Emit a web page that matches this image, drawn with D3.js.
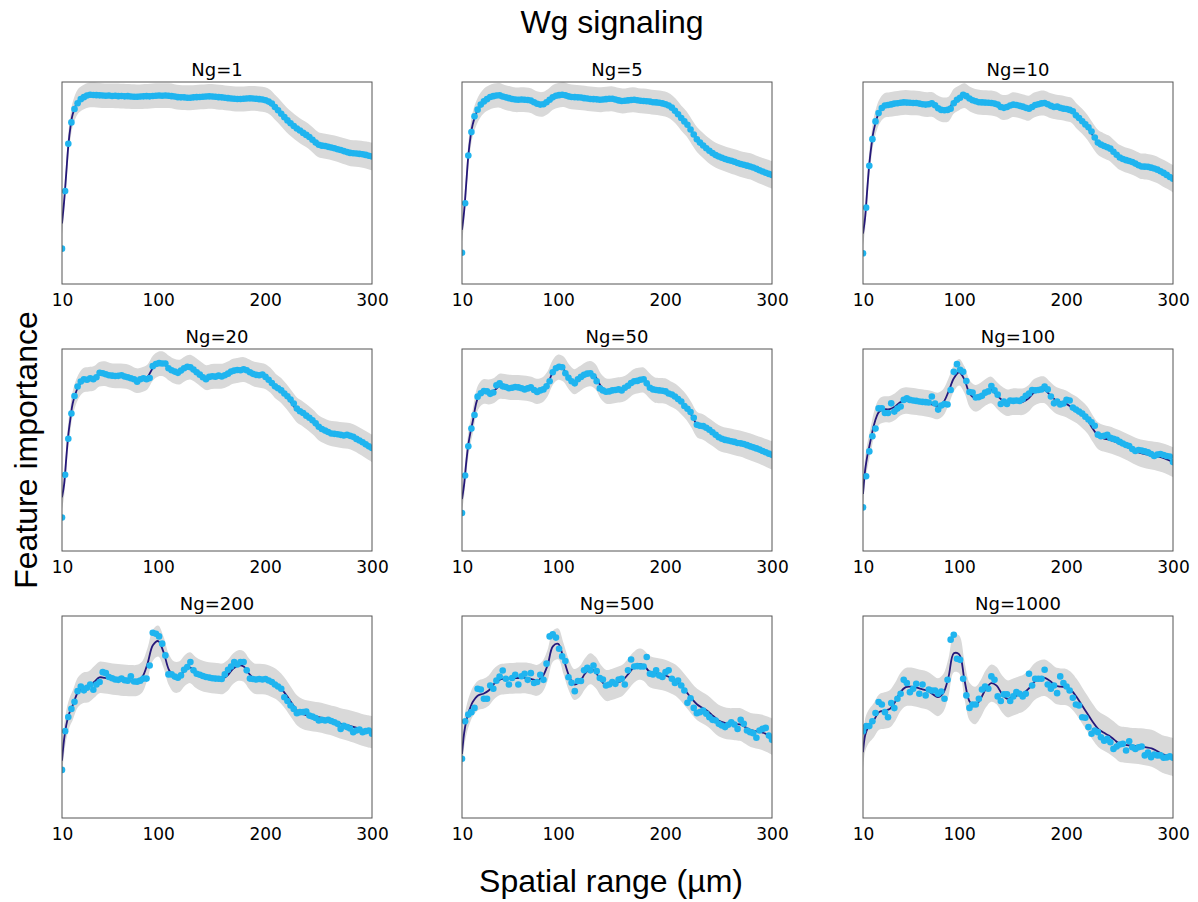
<!DOCTYPE html>
<html><head><meta charset="utf-8">
<script src="https://cdn.jsdelivr.net/npm/d3@7"></script>
<style>
html,body{margin:0;padding:0;background:#fff;}
svg{display:block;}
</style></head><body>
<svg id="chart" width="1198" height="902"></svg>
<script>
// ---------------- DATA ----------------
const panelTitles = ["Ng=1","Ng=5","Ng=10","Ng=20","Ng=50","Ng=100","Ng=200","Ng=500","Ng=1000"];
const tickVals = [10,100,200,300];

// sampled spatial ranges (µm) of the scatter points
const xGrid = [10.0,12.9,15.9,18.8,21.7,24.6,27.6,30.5,33.4,36.4,
39.3,42.2,45.2,48.1,51.0,53.9,56.9,59.8,62.7,65.7,
68.6,71.5,74.4,77.4,80.3,83.2,86.2,89.1,92.0,94.9,
97.9,100.8,103.7,106.7,109.6,112.5,115.5,118.4,121.3,124.2,
127.2,130.1,133.0,136.0,138.9,141.8,144.7,147.7,150.6,153.5,
156.5,159.4,162.3,165.3,168.2,171.1,174.0,177.0,179.9,182.8,
185.8,188.7,191.6,194.5,197.5,200.4,203.3,206.3,209.2,212.1,
215.1,218.0,220.9,223.8,226.8,229.7,232.6,235.6,238.5,241.4,
244.3,247.3,250.2,253.1,256.1,259.0,261.9,264.8,267.8,270.7,
273.6,276.6,279.5,282.4,285.4,288.3,291.2,294.1,297.1,300.0];

// x positions of the fitted curve samples
const lineX = [10,12,14,16,18,20,25,30,35,40,45,50,55,60,65,70,75,80,85,90,95,100,105,110,115,120,125,130,135,140,145,150,155,160,165,170,175,180,185,190,195,200,205,210,215,220,225,230,235,240,245,250,255,260,265,270,275,280,285,290,295,300];
// x positions of the uncertainty half-width samples
const bandX = [10,40,260,300];

// scatter values (relative feature importance)
const dotsNg1 = [0.175,0.46,0.694,0.80,0.866,0.895,0.915,0.925,0.933,0.937,
0.936,0.935,0.934,0.933,0.932,0.933,0.931,0.932,0.930,0.931,
0.929,0.930,0.928,0.927,0.927,0.928,0.929,0.930,0.929,0.931,
0.932,0.933,0.932,0.933,0.932,0.930,0.928,0.925,0.924,0.924,
0.922,0.922,0.924,0.925,0.926,0.927,0.928,0.929,0.928,0.927,
0.925,0.924,0.922,0.920,0.918,0.917,0.916,0.916,0.917,0.918,
0.919,0.918,0.917,0.915,0.913,0.910,0.903,0.893,0.876,0.860,
0.843,0.826,0.810,0.796,0.782,0.770,0.760,0.748,0.738,0.728,
0.714,0.700,0.689,0.685,0.683,0.679,0.676,0.672,0.667,0.663,
0.658,0.653,0.649,0.647,0.646,0.644,0.642,0.639,0.635,0.631];
const dotsNg5 = [0.155,0.40,0.636,0.752,0.83,0.863,0.888,0.904,0.915,0.926,
0.930,0.933,0.934,0.928,0.924,0.920,0.916,0.913,0.912,0.913,
0.912,0.911,0.908,0.900,0.892,0.888,0.890,0.900,0.912,0.924,
0.932,0.935,0.937,0.934,0.929,0.926,0.925,0.924,0.923,0.920,
0.918,0.916,0.915,0.914,0.912,0.913,0.915,0.917,0.917,0.913,
0.909,0.906,0.907,0.909,0.911,0.912,0.910,0.907,0.906,0.905,
0.903,0.900,0.899,0.897,0.894,0.890,0.884,0.873,0.858,0.840,
0.822,0.805,0.788,0.765,0.740,0.716,0.700,0.686,0.672,0.660,
0.648,0.638,0.631,0.625,0.619,0.614,0.610,0.605,0.599,0.594,
0.590,0.586,0.582,0.577,0.570,0.563,0.557,0.551,0.545,0.540];
const dotsNg10 = [0.152,0.378,0.585,0.717,0.805,0.846,0.871,0.884,0.886,0.889,
0.893,0.895,0.897,0.899,0.898,0.897,0.896,0.896,0.893,0.890,
0.888,0.890,0.895,0.885,0.870,0.862,0.860,0.862,0.868,0.895,
0.912,0.922,0.937,0.930,0.918,0.910,0.905,0.900,0.899,0.898,
0.897,0.896,0.893,0.888,0.876,0.872,0.876,0.884,0.888,0.886,
0.882,0.878,0.872,0.868,0.876,0.886,0.890,0.894,0.896,0.890,
0.882,0.876,0.878,0.872,0.868,0.866,0.862,0.855,0.835,0.822,
0.806,0.790,0.776,0.755,0.725,0.700,0.690,0.683,0.677,0.670,
0.655,0.640,0.626,0.619,0.613,0.609,0.604,0.596,0.588,0.582,
0.581,0.580,0.576,0.572,0.566,0.558,0.550,0.540,0.530,0.521];
const dotsNg20 = [0.166,0.377,0.556,0.681,0.767,0.814,0.839,0.850,0.848,0.855,
0.850,0.860,0.882,0.880,0.875,0.870,0.868,0.866,0.867,0.870,
0.864,0.860,0.855,0.850,0.838,0.850,0.855,0.850,0.856,0.915,
0.926,0.930,0.928,0.928,0.905,0.895,0.888,0.882,0.893,0.905,
0.912,0.910,0.898,0.885,0.873,0.860,0.850,0.862,0.865,0.863,
0.868,0.864,0.870,0.878,0.888,0.893,0.896,0.895,0.900,0.895,
0.885,0.877,0.872,0.870,0.874,0.862,0.848,0.832,0.815,0.806,
0.795,0.780,0.766,0.750,0.730,0.705,0.692,0.683,0.670,0.660,
0.647,0.632,0.615,0.604,0.596,0.589,0.582,0.580,0.578,0.575,
0.572,0.575,0.570,0.565,0.555,0.547,0.538,0.528,0.518,0.510];
const dotsNg50 = [0.188,0.374,0.518,0.606,0.673,0.764,0.781,0.792,0.790,0.778,
0.785,0.820,0.830,0.815,0.812,0.806,0.808,0.812,0.810,0.806,
0.800,0.805,0.810,0.797,0.787,0.795,0.800,0.815,0.840,0.885,
0.905,0.912,0.910,0.880,0.858,0.840,0.830,0.850,0.862,0.872,
0.878,0.880,0.865,0.840,0.805,0.795,0.788,0.790,0.795,0.797,
0.800,0.795,0.808,0.818,0.832,0.840,0.842,0.848,0.850,0.830,
0.808,0.800,0.797,0.795,0.793,0.790,0.780,0.775,0.765,0.752,
0.740,0.718,0.704,0.688,0.660,0.625,0.620,0.618,0.610,0.600,
0.588,0.575,0.563,0.556,0.550,0.547,0.543,0.540,0.535,0.533,
0.530,0.524,0.518,0.513,0.508,0.502,0.495,0.489,0.482,0.476];
const dotsNg100 = [0.216,0.37,0.493,0.568,0.606,0.706,0.706,0.683,0.683,0.731,
0.690,0.705,0.715,0.748,0.756,0.748,0.745,0.743,0.740,0.738,
0.737,0.735,0.765,0.730,0.700,0.720,0.728,0.725,0.797,0.887,
0.925,0.897,0.887,0.841,0.787,0.785,0.760,0.762,0.768,0.784,
0.790,0.817,0.795,0.774,0.728,0.740,0.728,0.745,0.743,0.745,
0.743,0.752,0.768,0.780,0.797,0.795,0.797,0.800,0.814,0.800,
0.765,0.731,0.740,0.725,0.730,0.748,0.745,0.710,0.700,0.690,
0.680,0.665,0.651,0.637,0.620,0.576,0.568,0.570,0.575,0.560,
0.555,0.550,0.540,0.532,0.525,0.520,0.505,0.495,0.500,0.497,
0.493,0.488,0.480,0.470,0.477,0.480,0.475,0.470,0.468,0.440];
const dotsNg200 = [0.238,0.43,0.50,0.54,0.575,0.628,0.651,0.632,0.645,0.661,
0.635,0.661,0.673,0.722,0.717,0.698,0.692,0.686,0.684,0.690,
0.682,0.680,0.702,0.676,0.675,0.680,0.690,0.690,0.755,0.917,
0.912,0.899,0.863,0.805,0.711,0.711,0.700,0.694,0.706,0.734,
0.747,0.772,0.731,0.714,0.709,0.703,0.698,0.695,0.692,0.690,
0.689,0.688,0.711,0.734,0.750,0.772,0.760,0.772,0.772,0.731,
0.690,0.688,0.686,0.688,0.686,0.688,0.681,0.673,0.661,0.651,
0.640,0.598,0.579,0.557,0.540,0.519,0.524,0.524,0.527,0.507,
0.502,0.495,0.483,0.486,0.483,0.486,0.480,0.474,0.466,0.441,
0.456,0.450,0.443,0.425,0.433,0.438,0.425,0.430,0.433,0.417];
const dotsNg500 = [0.293,0.479,0.512,0.524,0.545,0.640,0.636,0.590,0.590,0.656,
0.640,0.680,0.700,0.730,0.689,0.661,0.693,0.709,0.661,0.702,
0.714,0.684,0.717,0.668,0.673,0.709,0.684,0.764,0.899,0.909,
0.893,0.838,0.800,0.777,0.697,0.669,0.628,0.678,0.678,0.731,
0.744,0.731,0.755,0.727,0.693,0.686,0.656,0.661,0.673,0.664,
0.686,0.689,0.661,0.731,0.785,0.750,0.752,0.750,0.750,0.797,
0.714,0.711,0.731,0.706,0.698,0.722,0.731,0.689,0.668,0.681,
0.656,0.631,0.570,0.593,0.545,0.519,0.524,0.532,0.516,0.499,
0.486,0.483,0.466,0.458,0.450,0.462,0.474,0.463,0.441,0.486,
0.466,0.433,0.425,0.420,0.397,0.433,0.441,0.446,0.408,0.387];
const dotsNg1000 = [0.430,0.455,0.455,0.479,0.520,0.574,0.562,0.524,0.499,0.569,
0.544,0.590,0.615,0.684,0.668,0.623,0.640,0.664,0.615,0.661,
0.607,0.636,0.631,0.631,0.615,0.626,0.590,0.684,0.883,0.907,
0.788,0.783,0.689,0.607,0.545,0.562,0.562,0.590,0.636,0.651,
0.640,0.701,0.684,0.602,0.579,0.612,0.612,0.579,0.602,0.623,
0.615,0.602,0.615,0.714,0.656,0.689,0.689,0.689,0.734,0.661,
0.640,0.656,0.618,0.701,0.668,0.651,0.631,0.595,0.562,0.557,
0.499,0.496,0.450,0.417,0.433,0.425,0.400,0.383,0.392,0.375,
0.342,0.354,0.364,0.367,0.334,0.380,0.350,0.342,0.350,0.354,
0.310,0.324,0.301,0.314,0.310,0.310,0.298,0.300,0.305,0.298];

// fitted mean curves (at lineX)
const fitNg1 = [0.30,0.41,0.55,0.69,0.78,0.84,0.905,0.925,0.935,0.936,0.934,0.932,0.932,0.931,0.930,0.929,0.928,0.927,0.928,0.929,0.931,0.932,0.933,0.932,0.928,0.924,0.923,0.922,0.924,0.926,0.928,0.929,0.926,0.924,0.920,0.917,0.916,0.916,0.918,0.919,0.916,0.912,0.899,0.871,0.843,0.813,0.790,0.769,0.750,0.734,0.711,0.689,0.683,0.678,0.672,0.664,0.656,0.648,0.646,0.643,0.638,0.631];
const fitNg5 = [0.268,0.36,0.50,0.64,0.73,0.79,0.865,0.904,0.922,0.932,0.934,0.924,0.918,0.912,0.913,0.912,0.907,0.893,0.889,0.902,0.924,0.934,0.937,0.929,0.925,0.923,0.920,0.916,0.914,0.912,0.915,0.917,0.911,0.906,0.909,0.912,0.908,0.906,0.903,0.899,0.896,0.891,0.879,0.855,0.822,0.793,0.753,0.714,0.688,0.664,0.645,0.631,0.621,0.612,0.604,0.595,0.588,0.582,0.571,0.560,0.550,0.540];
const fitNg10 = [0.25,0.33,0.47,0.60,0.69,0.76,0.85,0.884,0.889,0.893,0.897,0.899,0.897,0.896,0.892,0.888,0.888,0.872,0.862,0.866,0.905,0.922,0.932,0.915,0.904,0.899,0.898,0.896,0.890,0.875,0.876,0.888,0.884,0.876,0.870,0.886,0.894,0.895,0.884,0.877,0.873,0.867,0.860,0.830,0.806,0.775,0.735,0.700,0.685,0.673,0.650,0.627,0.615,0.607,0.596,0.583,0.581,0.575,0.566,0.551,0.537,0.521];
const fitNg20 = [0.266,0.33,0.46,0.58,0.66,0.73,0.81,0.845,0.850,0.855,0.875,0.878,0.870,0.867,0.867,0.864,0.855,0.843,0.848,0.862,0.905,0.925,0.925,0.905,0.890,0.886,0.902,0.910,0.895,0.875,0.858,0.864,0.865,0.866,0.876,0.890,0.895,0.898,0.888,0.875,0.870,0.864,0.845,0.815,0.795,0.765,0.730,0.697,0.680,0.660,0.637,0.610,0.595,0.584,0.579,0.575,0.572,0.568,0.556,0.540,0.524,0.508];
const fitNg50 = [0.257,0.33,0.44,0.53,0.59,0.64,0.76,0.789,0.787,0.795,0.815,0.814,0.810,0.809,0.808,0.806,0.800,0.790,0.797,0.827,0.885,0.910,0.900,0.862,0.838,0.852,0.870,0.878,0.862,0.815,0.792,0.792,0.797,0.800,0.814,0.836,0.844,0.846,0.820,0.798,0.794,0.792,0.778,0.764,0.740,0.711,0.670,0.625,0.615,0.598,0.580,0.561,0.550,0.545,0.538,0.532,0.524,0.515,0.505,0.495,0.484,0.473];
const fitNg100 = [0.282,0.40,0.47,0.52,0.57,0.62,0.689,0.701,0.702,0.715,0.737,0.745,0.742,0.739,0.735,0.731,0.725,0.718,0.735,0.789,0.855,0.885,0.847,0.777,0.756,0.767,0.787,0.797,0.772,0.748,0.734,0.739,0.739,0.740,0.756,0.785,0.797,0.797,0.772,0.748,0.737,0.728,0.713,0.698,0.675,0.648,0.605,0.570,0.558,0.551,0.542,0.532,0.520,0.507,0.494,0.484,0.478,0.473,0.468,0.462,0.452,0.440];
const fitNg200 = [0.284,0.39,0.46,0.505,0.535,0.557,0.623,0.645,0.650,0.673,0.696,0.694,0.690,0.686,0.683,0.681,0.680,0.681,0.698,0.764,0.855,0.876,0.821,0.734,0.698,0.700,0.731,0.744,0.721,0.706,0.698,0.694,0.691,0.689,0.706,0.739,0.755,0.750,0.714,0.690,0.688,0.686,0.677,0.664,0.640,0.607,0.568,0.532,0.515,0.507,0.503,0.499,0.493,0.486,0.478,0.469,0.462,0.455,0.447,0.438,0.431,0.425];
const fitNg500 = [0.317,0.42,0.48,0.52,0.55,0.574,0.607,0.615,0.631,0.664,0.684,0.689,0.691,0.693,0.693,0.693,0.688,0.681,0.698,0.755,0.850,0.862,0.788,0.706,0.661,0.674,0.714,0.739,0.721,0.681,0.656,0.661,0.670,0.681,0.709,0.742,0.761,0.755,0.727,0.717,0.712,0.706,0.695,0.681,0.655,0.623,0.590,0.562,0.545,0.529,0.505,0.483,0.472,0.466,0.465,0.463,0.450,0.436,0.430,0.425,0.415,0.403];
const fitNg1000 = [0.326,0.41,0.44,0.458,0.47,0.483,0.524,0.532,0.540,0.574,0.623,0.648,0.650,0.645,0.638,0.631,0.614,0.598,0.618,0.698,0.815,0.810,0.681,0.574,0.557,0.590,0.640,0.668,0.655,0.615,0.590,0.598,0.608,0.618,0.640,0.673,0.689,0.694,0.678,0.656,0.650,0.648,0.631,0.598,0.557,0.516,0.475,0.441,0.423,0.408,0.388,0.367,0.362,0.359,0.357,0.354,0.350,0.345,0.332,0.317,0.309,0.301];

// uncertainty half-widths (at bandX)
const bandNg1 = [0.06,0.061,0.062,0.068];
const bandNg5 = [0.06,0.061,0.062,0.068];
const bandNg10 = [0.06,0.061,0.062,0.068];
const bandNg20 = [0.06,0.061,0.062,0.068];
const bandNg50 = [0.06,0.062,0.063,0.07];
const bandNg100 = [0.062,0.066,0.066,0.074];
const bandNg200 = [0.07,0.078,0.074,0.08];
const bandNg500 = [0.07,0.076,0.078,0.09];
const bandNg1000 = [0.08,0.095,0.088,0.095];

const dotSeries = [dotsNg1,dotsNg5,dotsNg10,dotsNg20,dotsNg50,dotsNg100,dotsNg200,dotsNg500,dotsNg1000];
const fitSeries = [fitNg1,fitNg5,fitNg10,fitNg20,fitNg50,fitNg100,fitNg200,fitNg500,fitNg1000];
const bandSeries = [bandNg1,bandNg5,bandNg10,bandNg20,bandNg50,bandNg100,bandNg200,bandNg500,bandNg1000];

// ---------------- DRAW ----------------
const svg = d3.select('#chart');
const W = 310, H = 202;
const colLeft = [62, 462, 863];
const rowTop = [82, 349, 616];
const x = d3.scaleLinear().domain([10, 300]).range([0, W]);
const y = d3.scaleLinear().domain([0, 1]).range([H, 0]);
const tickFont = "'DejaVu Sans', sans-serif";
const bigFont = "'Liberation Sans', Arial, sans-serif";
const curve = d3.curveCatmullRom.alpha(0.5);

panelTitles.forEach((title, k) => {
  const g = svg.append('g')
    .attr('transform', `translate(${colLeft[k % 3]},${rowTop[Math.floor(k / 3)]})`);
  const clipId = 'clip' + k;
  g.append('clipPath').attr('id', clipId)
    .append('rect').attr('width', W).attr('height', H);
  const plot = g.append('g').attr('clip-path', `url(#${clipId})`);

  const hw = d3.scaleLinear().domain(bandX).range(bandSeries[k]);
  const fitPts = lineX.map((xv, i) => ({ x: xv, y: fitSeries[k][i] }));

  plot.append('path').datum(fitPts)
    .attr('d', d3.area()
      .x(d => x(d.x))
      .y0(d => y(d.y - hw(d.x)))
      .y1(d => y(d.y + hw(d.x)))
      .curve(curve))
    .attr('fill', '#d9d9d9');

  plot.append('path').datum(fitPts)
    .attr('d', d3.line().x(d => x(d.x)).y(d => y(d.y)).curve(curve))
    .attr('fill', 'none')
    .attr('stroke', '#25187a')
    .attr('stroke-width', 1.8);

  plot.selectAll('circle')
    .data(xGrid.map((xv, i) => ({ x: xv, y: dotSeries[k][i] })))
    .join('circle')
    .attr('cx', d => x(d.x))
    .attr('cy', d => y(d.y))
    .attr('r', 3.3)
    .attr('fill', '#1fb4ef');

  g.append('rect').attr('width', W).attr('height', H)
    .attr('fill', 'none').attr('stroke', '#555').attr('stroke-width', 1);

  const ax = g.append('g').attr('transform', `translate(0,${H})`)
    .call(d3.axisBottom(x).tickValues(tickVals).tickFormat(d3.format('d')).tickSize(0).tickPadding(10));
  ax.select('.domain').remove();
  ax.selectAll('text').attr('font-size', 17).attr('font-family', tickFont).attr('fill', '#000');

  g.append('text').attr('x', W / 2).attr('y', -6)
    .attr('text-anchor', 'middle')
    .attr('font-family', tickFont).attr('font-size', 18)
    .text(title);
});

svg.append('text').attr('x', 612).attr('y', 33)
  .attr('text-anchor', 'middle').attr('font-family', bigFont).attr('font-size', 32)
  .text('Wg signaling');

svg.append('text').attr('x', 611).attr('y', 892)
  .attr('text-anchor', 'middle').attr('font-family', bigFont).attr('font-size', 32)
  .text('Spatial range (µm)');

svg.append('text')
  .attr('transform', 'translate(37,450) rotate(-90)')
  .attr('text-anchor', 'middle').attr('font-family', bigFont).attr('font-size', 32)
  .text('Feature importance');
</script>
</body></html>
